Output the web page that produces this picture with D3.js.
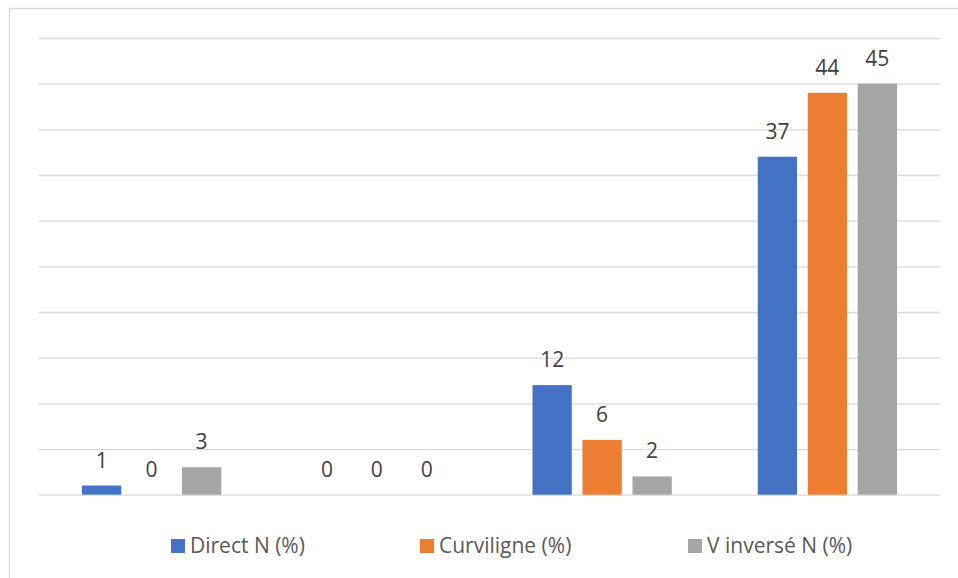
<!DOCTYPE html>
<html>
<head>
<meta charset="utf-8">
<script src="https://cdn.jsdelivr.net/npm/d3@7"></script>
<style>
  body { margin: 0; background: #fff; }
  svg { display: block; font-family: "Open Sans", sans-serif; }
</style>
</head>
<body>
<div class="canvas"></div>
<script>
// data
const categories = ['G1', 'G2', 'G3', 'G4'];
const seriesNames = ['Direct N (%)', 'Curviligne (%)', 'V inversé N (%)'];
const directN = [1, 0, 12, 37];
const curviligne = [0, 0, 6, 44];
const vInverse = [3, 0, 2, 45];
const yTicks = [0, 5, 10, 15, 20, 25, 30, 35, 40, 45, 50];

const colors = ['#4472C4', '#ED7D31', '#A5A5A5'];
const seriesValues = [directN, curviligne, vInverse];

const svg = d3.select('.canvas')
    .append('svg')
        .attr('width', 958)
        .attr('height', 578);

// chart frame (right and bottom edges fall outside the picture)
svg.append('rect')
    .attr('x', 9.5)
    .attr('y', 8.5)
    .attr('width', 960)
    .attr('height', 580)
    .attr('fill', '#fff')
    .attr('stroke', '#d9d9d9')
    .attr('stroke-width', 1.3);

const margin = {top: 38, left: 39};
const graphWidth = 901;
const graphHeight = 456.7;

const graph = svg.append('g')
    .attr('transform', `translate(${margin.left}, ${margin.top})`);

const y = d3.scaleLinear()
    .domain([0, 50])
    .range([graphHeight, 0]);

const x0 = d3.scaleBand()
    .domain(categories)
    .range([0, graphWidth])
    .padding(0);

const x1 = d3.scaleBand()
    .domain(seriesNames)
    .range([0, x0.bandwidth()])
    .paddingInner(0.214)
    .paddingOuter(0.86);

// gridlines
const yAxis = d3.axisLeft(y)
    .tickValues(yTicks)
    .tickSize(-graphWidth)
    .tickFormat('');

const yAxisGroup = graph.append('g').call(yAxis);
yAxisGroup.select('.domain').remove();
yAxisGroup.selectAll('line')
    .attr('stroke', '#d9d9d9')
    .attr('stroke-width', 1.3);

// flatten to one row per bar
const rows = [];
categories.forEach((c, i) => {
    seriesNames.forEach((s, j) => {
        rows.push({cat: c, series: s, value: seriesValues[j][i], color: colors[j]});
    });
});

graph.selectAll('rect.bar')
    .data(rows)
    .enter()
    .append('rect')
        .attr('class', 'bar')
        .attr('x', d => x0(d.cat) + x1(d.series))
        .attr('y', d => y(d.value))
        .attr('width', x1.bandwidth())
        .attr('height', d => graphHeight - y(d.value))
        .attr('fill', d => d.color);

graph.selectAll('text.lbl')
    .data(rows)
    .enter()
    .append('text')
        .attr('class', 'lbl')
        .attr('x', d => x0(d.cat) + x1(d.series) + x1.bandwidth() / 2)
        .attr('y', d => y(d.value) - 18)
        .attr('text-anchor', 'middle')
        .attr('font-size', 21)
        .attr('fill', '#404040')
        .text(d => d.value);

// legend
const legendX = [171, 420, 688];
const legend = svg.append('g');
seriesNames.forEach((s, j) => {
    legend.append('rect')
        .attr('x', legendX[j])
        .attr('y', 539)
        .attr('width', 14)
        .attr('height', 14)
        .attr('fill', colors[j]);
    legend.append('text')
        .attr('x', legendX[j] + 19)
        .attr('y', 553)
        .attr('font-size', 21)
        .attr('fill', '#595959')
        .text(s);
});
</script>
</body>
</html>
